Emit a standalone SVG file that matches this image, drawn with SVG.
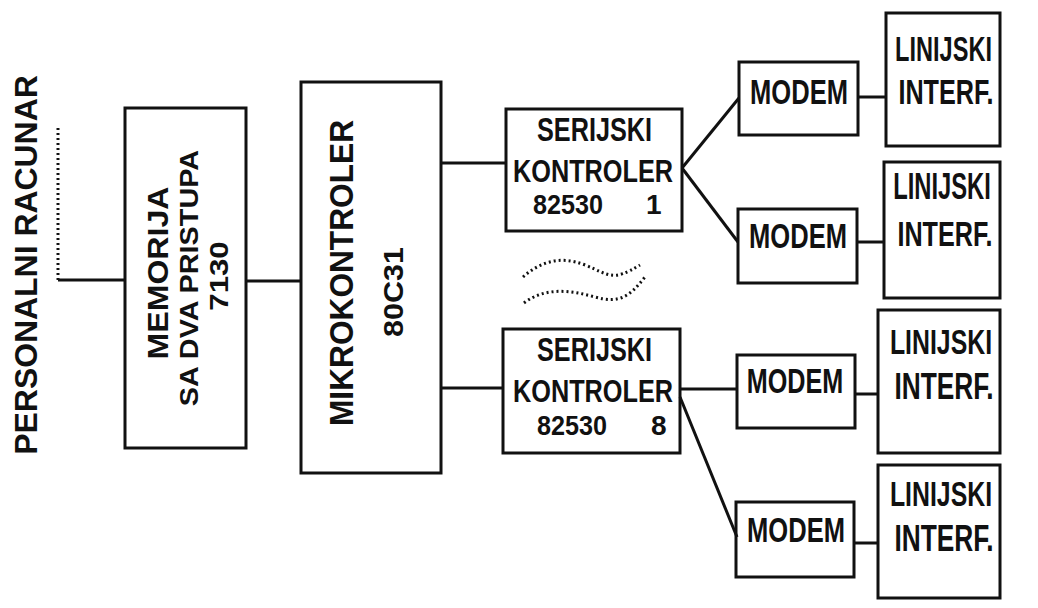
<svg xmlns="http://www.w3.org/2000/svg" width="1038" height="608" viewBox="0 0 1038 608">
<style>
.box{fill:none;stroke:#111;stroke-width:3}
.ln{fill:none;stroke:#111;stroke-width:3}
.dot{fill:none;stroke:#111;stroke-width:3;stroke-dasharray:2 3}
text{font-family:"Liberation Sans",Arial,sans-serif;font-weight:bold;fill:#111;text-anchor:middle}
.s{font-size:33px}
.k{font-size:32px}
.d{font-size:28px;text-anchor:start}
.m{font-size:36px}
</style>
<rect width="1038" height="608" fill="#fff"/>
<g id="pc">
<text font-size="31" transform="translate(37,265) rotate(-90) scale(1.03,1)">PERSONALNI RACUNAR</text>
<line class="dot" x1="58" y1="128" x2="58" y2="280" stroke-width="2"/>
</g>
<g id="memorija">
<rect class="box" x="125" y="108" width="121" height="340"/>
<text font-size="30" transform="translate(168,273) rotate(-90) scale(1.07,1)">MEMORIJA</text>
<text font-size="26" transform="translate(198,278) rotate(-90) scale(1.11,1)">SA DVA PRISTUPA</text>
<text font-size="26" transform="translate(228,276) rotate(-90) scale(1.2,1)">7130</text>
</g>
<g id="mikrokontroler">
<rect class="box" x="301" y="82" width="140" height="391"/>
<text font-size="33" transform="translate(353,273) rotate(-90) scale(0.96,1)">MIKROKONTROLER</text>
<text font-size="28" transform="translate(403,292) rotate(-90) scale(1.09,1)">80C31</text>
</g>
<g id="serijski1">
<rect class="box" x="506" y="109" width="176" height="122"/>
<text class="s" transform="translate(594.5,141) scale(0.765,1)">SERIJSKI</text>
<text class="k" transform="translate(593,182) scale(0.79,1)">KONTROLER</text>
<text class="d" transform="translate(533,214) scale(0.9,1)">82530</text>
<text class="d" x="646" y="214">1</text>
</g>
<g id="serijski8">
<rect class="box" x="503" y="329" width="177" height="124"/>
<text class="s" transform="translate(594.5,361) scale(0.765,1)">SERIJSKI</text>
<text class="k" transform="translate(593,402) scale(0.79,1)">KONTROLER</text>
<text class="d" transform="translate(537,435) scale(0.9,1)">82530</text>
<text class="d" x="651" y="435">8</text>
</g>
<g id="modem1">
<rect class="box" x="739" y="62" width="119" height="73"/>
<text class="m" transform="translate(799,104) scale(0.71,1)">MODEM</text>
</g>
<g id="modem2">
<rect class="box" x="738" y="209" width="119" height="74"/>
<text class="m" transform="translate(798,248) scale(0.71,1)">MODEM</text>
</g>
<g id="modem3">
<rect class="box" x="737" y="355" width="118" height="73"/>
<text class="m" transform="translate(795,393) scale(0.70,1)">MODEM</text>
</g>
<g id="modem4">
<rect class="box" x="736" y="502" width="118" height="75"/>
<text class="m" transform="translate(796,542) scale(0.71,1)">MODEM</text>
</g>
<g id="linijski1">
<rect class="box" x="886" y="13" width="114" height="133"/>
<text class="m" transform="translate(943.5,61) scale(0.655,1)">LINIJSKI</text>
<text class="m" transform="translate(946,104) scale(0.70,1)">INTERF.</text>
</g>
<g id="linijski2">
<rect class="box" x="884" y="162" width="116" height="136"/>
<text class="m" transform="translate(942,199) scale(0.66,1)">LINIJSKI</text>
<text class="m" transform="translate(945,246) scale(0.70,1)">INTERF.</text>
</g>
<g id="linijski3">
<rect class="box" x="878" y="310" width="122" height="143"/>
<text class="m" transform="translate(941,354) scale(0.69,1)">LINIJSKI</text>
<text class="m" transform="translate(944,399) scale(0.73,1)">INTERF.</text>
</g>
<g id="linijski4">
<rect class="box" x="878" y="465" width="122" height="133"/>
<text class="m" transform="translate(941,506) scale(0.69,1)">LINIJSKI</text>
<text class="m" transform="translate(944,551) scale(0.73,1)">INTERF.</text>
</g>
<g id="connectors">
<line class="ln" x1="58" y1="280" x2="125" y2="280"/>
<line class="ln" x1="246" y1="281" x2="301" y2="281"/>
<line class="ln" x1="441" y1="163" x2="506" y2="163"/>
<line class="ln" x1="441" y1="388" x2="503" y2="388"/>
<line class="ln" x1="682" y1="168" x2="739" y2="98"/>
<line class="ln" x1="682" y1="168" x2="738" y2="242"/>
<line class="ln" x1="858" y1="97" x2="886" y2="97"/>
<line class="ln" x1="857" y1="242" x2="884" y2="242"/>
<line class="ln" x1="680" y1="389" x2="737" y2="389"/>
<line class="ln" x1="680" y1="397" x2="737" y2="537"/>
<line class="ln" x1="855" y1="394" x2="878" y2="394"/>
<line class="ln" x1="854" y1="543" x2="878" y2="543"/>
</g>
<g id="ellipsis">
<path class="dot" d="M523,277 C540,262 560,255 585,265 S612,282 640,265"/>
<path class="dot" d="M524,303 C545,287 570,290 595,297 S630,296 645,277"/>
</g>
</svg>
